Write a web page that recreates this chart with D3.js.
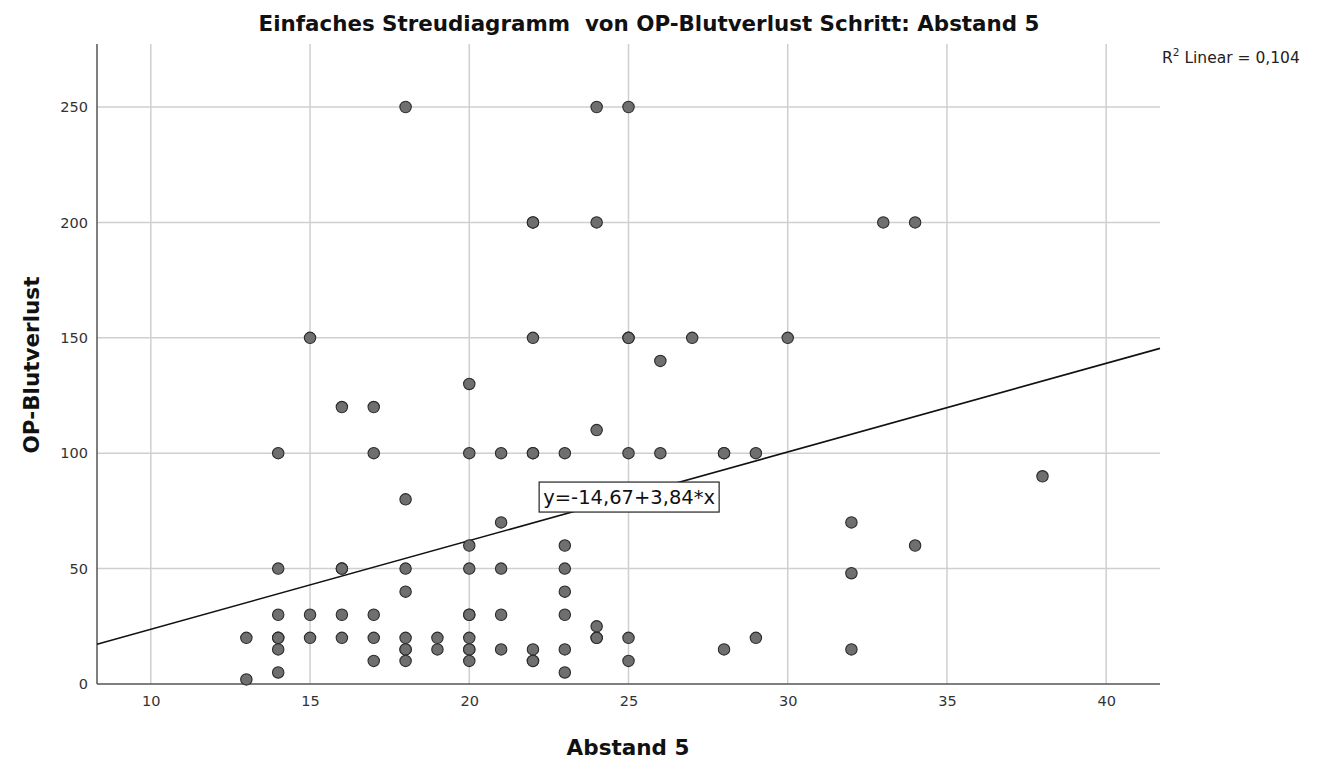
<!DOCTYPE html>
<html>
<head>
<meta charset="utf-8">
<script src="https://cdn.jsdelivr.net/npm/d3@7"></script>
<style>
  html, body { margin: 0; padding: 0; background: #fff; }
  svg { display: block; }
  text { font-family: "DejaVu Sans", "Noto Sans", sans-serif; }
</style>
</head>
<body>
<svg id="chart" width="1329" height="760"></svg>
<script>
// ---- data ----
const abstand5 = [
  13,13,
  14,14,14,14,14,14,14,
  15,15,15,
  16,16,16,16,16,
  17,17,17,17,17,
  18,18,18,18,18,18,18,18,
  19,19,
  20,20,20,20,20,20,20,20,20,20,
  21,21,21,21,21,
  22,22,22,22,22,22,22,22,
  23,23,23,23,23,23,23,
  24,24,24,24,24,24,
  25,25,25,25,25,25,
  26,26,
  27,
  28,28,28,
  29,29,
  30,
  32,32,32,
  33,
  34,34,
  38
];
const blutverlust = [
  20,2,
  100,50,30,20,20,15,5,
  150,30,20,
  120,50,50,30,20,
  120,100,30,20,10,
  250,80,50,40,20,15,15,10,
  20,15,
  130,100,60,50,30,30,20,15,15,10,
  100,70,50,30,15,
  200,200,150,100,100,15,10,10,
  100,60,50,40,30,15,5,
  250,200,110,25,20,20,
  250,150,150,100,20,10,
  140,100,
  150,
  100,100,15,
  100,20,
  150,
  70,48,15,
  200,
  200,60,
  90
];
const xTicks = [10, 15, 20, 25, 30, 35, 40];
const yTicks = [0, 50, 100, 150, 200, 250];
const fitIntercept = -14.67;
const fitSlope = 3.84;
const rSquared = "0,104";
const fitLabel = "y=-14,67+3,84*x";
const titleText = "Einfaches Streudiagramm  von OP-Blutverlust Schritt: Abstand 5";
const xTitle = "Abstand 5";
const yTitle = "OP-Blutverlust";

// ---- layout ----
const svg = d3.select("#chart");
const pL = 97, pR = 1160, pT = 44, pB = 684;
const xDom = [8.31, 41.69];
const x = d3.scaleLinear().domain(xDom).range([pL, pR]);
const y = d3.scaleLinear().domain([0, 277.3]).range([pB, pT]);

// grid
svg.append("g").selectAll("line").data(xTicks).join("line")
  .attr("x1", d => x(d)).attr("x2", d => x(d))
  .attr("y1", pT).attr("y2", pB)
  .attr("stroke", "#cfcfcf").attr("stroke-width", 1.5);
svg.append("g").selectAll("line").data(yTicks.filter(d => d > 0)).join("line")
  .attr("x1", pL).attr("x2", pR)
  .attr("y1", d => y(d)).attr("y2", d => y(d))
  .attr("stroke", "#cfcfcf").attr("stroke-width", 1.5);

// axes
const xAxis = svg.append("g").attr("transform", `translate(0,${pB})`)
  .call(d3.axisBottom(x).tickValues(xTicks).tickSize(0).tickPadding(12).tickFormat(d3.format("d")));
const yAxis = svg.append("g").attr("transform", `translate(${pL},0)`)
  .call(d3.axisLeft(y).tickValues(yTicks).tickSize(0).tickPadding(9).tickFormat(d3.format("d")));
[xAxis, yAxis].forEach(a => {
  a.select(".domain").attr("stroke", "#555").attr("stroke-width", 1.5);
  a.selectAll("text").attr("font-size", 14.5).attr("fill", "#333")
    .attr("font-family", "\"DejaVu Sans\", sans-serif");
});
yAxis.select(".domain").attr("d", `M0,${pT}V${pB}`);
xAxis.select(".domain").attr("d", `M${pL},0H${pR}`);

// fit line
svg.append("line")
  .attr("x1", x(xDom[0])).attr("y1", y(fitIntercept + fitSlope * xDom[0]))
  .attr("x2", x(xDom[1])).attr("y2", y(fitIntercept + fitSlope * xDom[1]))
  .attr("stroke", "#111").attr("stroke-width", 1.6);

// points
const pts = abstand5.map((v, i) => ({ x: v, y: blutverlust[i] }));
svg.append("g").selectAll("circle").data(pts).join("circle")
  .attr("cx", d => x(d.x)).attr("cy", d => y(d.y)).attr("r", 5.7)
  .attr("fill", "#6f6f6f").attr("stroke", "#2b2b2b").attr("stroke-width", 1.1);

// fit label box
const lblCx = x(25.02), lblCy = y(81);
svg.append("rect")
  .attr("x", lblCx - 90).attr("y", lblCy - 15).attr("width", 180).attr("height", 30)
  .attr("fill", "#fff").attr("stroke", "#222").attr("stroke-width", 1.2);
svg.append("text").attr("x", lblCx).attr("y", lblCy + 7)
  .attr("text-anchor", "middle").attr("font-size", 19.5).attr("fill", "#111").text(fitLabel);

// R² label
const r2 = svg.append("text").attr("x", 1162).attr("y", 63).attr("font-size", 15.5).attr("fill", "#222");
r2.append("tspan").text("R");
r2.append("tspan").attr("font-size", 10.5).attr("dy", -7).text("2");
r2.append("tspan").attr("dy", 7).text(" Linear = " + rSquared);

// titles
svg.append("text").attr("x", 649).attr("y", 31).attr("text-anchor", "middle")
  .attr("font-size", 21.4).attr("font-weight", "bold").attr("fill", "#111")
  .style("white-space", "pre").text(titleText);
svg.append("text").attr("x", 628).attr("y", 755).attr("text-anchor", "middle")
  .attr("font-size", 21.5).attr("font-weight", "bold").attr("fill", "#111").text(xTitle);
svg.append("text").attr("transform", "translate(39,365) rotate(-90)").attr("text-anchor", "middle")
  .attr("font-size", 21.5).attr("font-weight", "bold").attr("fill", "#111").text(yTitle);
</script>
</body>
</html>
